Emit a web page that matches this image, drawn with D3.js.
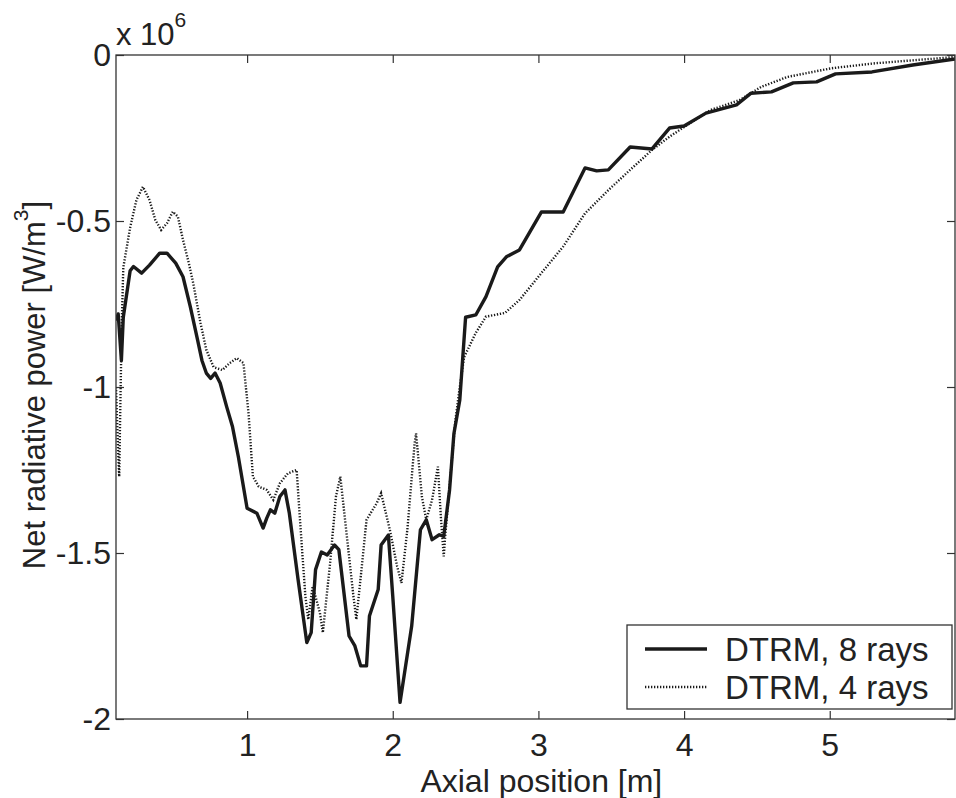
<!DOCTYPE html>
<html>
<head>
<meta charset="utf-8">
<script src="https://cdn.jsdelivr.net/npm/d3@7"></script>
<style>
    body { margin: 0; background: #fff; }
    svg text { font-family: "Liberation Sans", Arial, sans-serif; fill: #222; }
    .line8 { fill: none; stroke: #1a1a1a; stroke-width: 3.4; stroke-linejoin: round; }
    .line4 { fill: none; stroke: #1a1a1a; stroke-width: 2.4; stroke-dasharray: 1.3,1.7; }
</style>
</head>
<body>
<div id="chart"></div>
<script>
// DTRM, 8 rays (solid), net radiative power in 1e6 W/m3
var x8 = [0.10, 0.115, 0.137, 0.15, 0.197, 0.22, 0.276, 0.33, 0.40, 0.45, 0.51, 0.56, 0.61, 0.66, 0.69, 0.72, 0.75,
    0.78, 0.815, 0.86, 0.90, 0.94, 1.00, 1.067, 1.11, 1.135, 1.16, 1.19, 1.225, 1.26, 1.29, 1.35, 1.41, 1.44,
    1.47, 1.51, 1.55, 1.60, 1.63, 1.70, 1.74, 1.78, 1.82, 1.84, 1.90, 1.92, 1.97, 2.00, 2.05, 2.13, 2.19, 2.23,
    2.27, 2.32, 2.35, 2.39, 2.42, 2.46, 2.50, 2.57, 2.64, 2.72, 2.78, 2.87, 3.02, 3.17, 3.32, 3.40, 3.48, 3.63,
    3.78, 3.90, 4.00, 4.15, 4.36, 4.46, 4.60, 4.75, 4.91, 5.04, 5.29, 5.57, 5.86];
var y8 = [-0.80, -0.78, -0.92, -0.79, -0.65, -0.637, -0.657, -0.633, -0.597, -0.597, -0.627, -0.668, -0.758, -0.858, -0.92, -0.958, -0.974,
    -0.958, -0.988, -1.06, -1.12, -1.21, -1.365, -1.38, -1.425, -1.395, -1.37, -1.38, -1.33, -1.31, -1.38, -1.58, -1.77, -1.74,
    -1.55, -1.497, -1.506, -1.476, -1.49, -1.75, -1.78, -1.84, -1.84, -1.69, -1.61, -1.476, -1.446, -1.63, -1.95, -1.72, -1.43, -1.40,
    -1.46, -1.445, -1.45, -1.31, -1.14, -1.04, -0.79, -0.783, -0.728, -0.638, -0.608, -0.587, -0.473, -0.473, -0.34, -0.349, -0.346, -0.277,
    -0.283, -0.22, -0.214, -0.175, -0.15, -0.115, -0.111, -0.084, -0.081, -0.057, -0.051, -0.03, -0.012];

// DTRM, 4 rays (dotted)
var x4 = [0.10, 0.115, 0.122, 0.13, 0.14, 0.15, 0.197, 0.24, 0.285, 0.33, 0.37, 0.41, 0.45, 0.49, 0.525, 0.56, 0.60,
    0.63, 0.68, 0.72, 0.77, 0.83, 0.88, 0.93, 0.975, 1.01, 1.04, 1.08, 1.135, 1.18, 1.225, 1.28, 1.34, 1.36,
    1.40, 1.42, 1.45, 1.50, 1.52, 1.57, 1.61, 1.64, 1.68, 1.73, 1.75, 1.79, 1.82, 1.89, 1.92, 1.98, 2.03, 2.06,
    2.10, 2.15, 2.16, 2.20, 2.23, 2.27, 2.31, 2.33, 2.35, 2.36, 2.40, 2.43, 2.46, 2.49, 2.57, 2.64, 2.77, 2.87,
    3.02, 3.17, 3.32, 3.48, 3.63, 3.78, 3.90, 4.00, 4.18, 4.38, 4.53, 4.71, 5.01, 5.31, 5.86];
var y4 = [-1.00, -1.20, -1.27, -1.05, -0.80, -0.64, -0.52, -0.437, -0.397, -0.437, -0.497, -0.527, -0.507, -0.472, -0.487, -0.557, -0.627,
    -0.687, -0.807, -0.888, -0.94, -0.949, -0.928, -0.913, -0.928, -1.08, -1.27, -1.30, -1.31, -1.34, -1.29, -1.26, -1.25, -1.38,
    -1.63, -1.70, -1.60, -1.68, -1.74, -1.53, -1.33, -1.27, -1.43, -1.63, -1.70, -1.53, -1.40, -1.35, -1.32, -1.43, -1.54, -1.59,
    -1.43, -1.17, -1.14, -1.33, -1.40, -1.34, -1.24, -1.39, -1.51, -1.45, -1.25, -1.10, -1.00, -0.91, -0.837, -0.788, -0.777, -0.738,
    -0.657, -0.577, -0.477, -0.407, -0.346, -0.286, -0.246, -0.217, -0.166, -0.136, -0.096, -0.066, -0.04, -0.025, -0.006];

var xTicks = [1, 2, 3, 4, 5];
var yTicks = [0, -0.5, -1, -1.5, -2];
var legendLabels = ["DTRM, 8 rays", "DTRM, 4 rays"];

var svg = d3.select("#chart").append("svg")
        .attr("width", 956)
        .attr("height", 798),
    margin = {top: 55, right: 1, bottom: 79, left: 116},
    width = +svg.attr("width") - margin.left - margin.right,
    height = +svg.attr("height") - margin.top - margin.bottom,
    g = svg.append("g").attr("transform", "translate(" + margin.left + "," + margin.top + ")");

var x = d3.scaleLinear().domain([0.1, 5.86]).range([0, width]);
var y = d3.scaleLinear().domain([-2, 0]).range([height, 0]);

var line = d3.line()
    .x(function(d) { return x(d[0]); })
    .y(function(d) { return y(d[1]); });

g.append("clipPath").attr("id", "clip-main")
    .append("rect").attr("width", width).attr("height", height);

var data4 = x4.map(function(v, i) { return [v, y4[i]]; });
var data8 = x8.map(function(v, i) { return [v, y8[i]]; });

g.append("path").attr("class", "line4").attr("clip-path", "url(#clip-main)").attr("d", line(data4));
g.append("path").attr("class", "line8").attr("clip-path", "url(#clip-main)").attr("d", line(data8));

// axes, ticks pointing inward
function styleAxis(sel) {
    sel.select(".domain").remove();
    sel.selectAll(".tick line").attr("stroke", "#333").attr("stroke-width", 1.2);
    sel.selectAll("text").attr("font-size", 32).attr("fill", "#222")
        .attr("font-family", "'Liberation Sans', Arial, sans-serif");
}

g.append("g")
    .attr("transform", "translate(0," + height + ")")
    .call(d3.axisBottom(x).tickValues(xTicks).tickSize(-8).tickPadding(14).tickFormat(d3.format("d")))
    .call(styleAxis);

g.append("g")
    .call(d3.axisTop(x).tickValues(xTicks).tickSize(-8).tickFormat(""))
    .call(styleAxis);

g.append("g")
    .call(d3.axisLeft(y).tickValues(yTicks).tickSize(-8).tickPadding(5).tickFormat(function(d) { return String(d); }))
    .call(styleAxis);

g.append("g")
    .attr("transform", "translate(" + width + ",0)")
    .call(d3.axisRight(y).tickValues(yTicks).tickSize(-8).tickFormat(""))
    .call(styleAxis);

g.append("rect")
    .attr("width", width).attr("height", height)
    .attr("fill", "none").attr("stroke", "#333").attr("stroke-width", 1.3);

// exponent label
var expo = svg.append("text").attr("x", 116).attr("y", 45).attr("font-size", 31);
expo.append("tspan").text("x 10");
expo.append("tspan").attr("font-size", 21).attr("dy", -18).text("6");

// axis titles
svg.append("text")
    .attr("x", margin.left + x(3.02))
    .attr("y", 792)
    .attr("text-anchor", "middle")
    .attr("font-size", 32)
    .text("Axial position [m]");

var yl = svg.append("text")
    .attr("transform", "translate(45," + (margin.top + height / 2 - 2) + ") rotate(-90)")
    .attr("text-anchor", "middle")
    .attr("font-size", 31);
yl.append("tspan").text("Net radiative power [W/m");
yl.append("tspan").attr("font-size", 21).attr("dy", -17).text("3");
yl.append("tspan").attr("dy", 17).text("]");

// legend
var leg = svg.append("g").attr("transform", "translate(627,625)");
leg.append("rect").attr("width", 325).attr("height", 84)
    .attr("fill", "#fff").attr("stroke", "#333").attr("stroke-width", 1.3);
var rows = leg.selectAll(".legend-row").data(legendLabels).enter().append("g")
    .attr("class", "legend-row")
    .attr("transform", function(d, i) { return "translate(0," + (24 + i * 38) + ")"; });
rows.append("line")
    .attr("class", function(d, i) { return i === 0 ? "line8" : "line4"; })
    .attr("x1", 18).attr("x2", 80).attr("y1", 0).attr("y2", 0);
rows.append("text")
    .attr("x", 98).attr("y", 12)
    .attr("font-size", 33)
    .text(function(d) { return d; });
</script>
</body>
</html>
